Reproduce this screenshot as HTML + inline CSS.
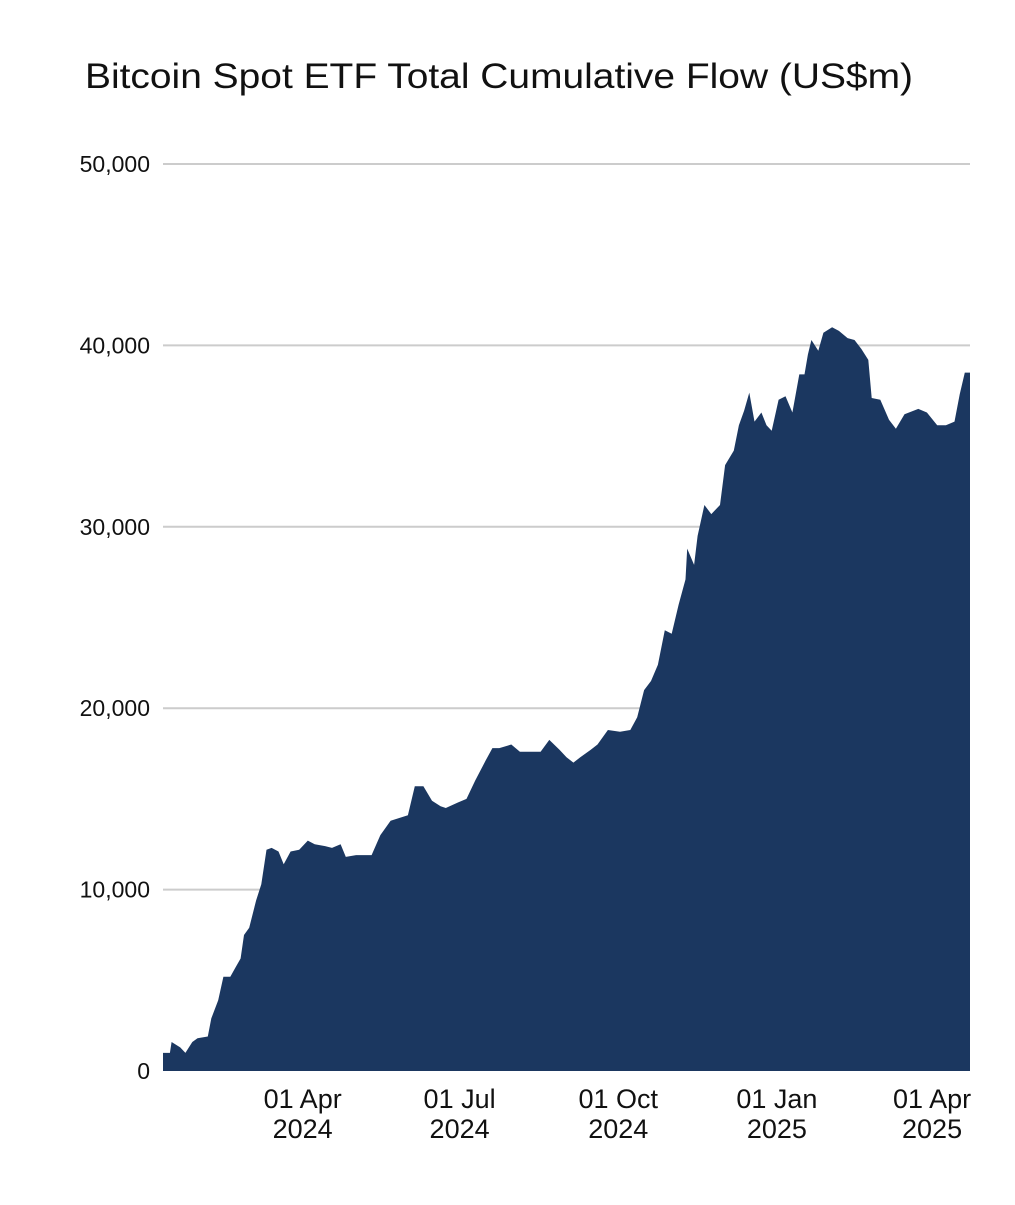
<!DOCTYPE html>
<html><head><meta charset="utf-8">
<style>
body{margin:0;background:#fff;font-family:"Liberation Sans",sans-serif;}
svg text{font-family:"Liberation Sans",sans-serif;fill:#111;}
</style></head>
<body>
<svg id="chart" width="1015" height="1200" xmlns="http://www.w3.org/2000/svg">
<text x="85" y="88" font-size="35" textLength="828" lengthAdjust="spacingAndGlyphs">Bitcoin Spot ETF Total Cumulative Flow (US$m)</text>
<g id="grid"></g><g id="area"></g><g id="axes"></g>
</svg>
<script>
const days=[0,4,5,10,13,17,20,26,28,32,35,39,42,45,47,50,54,57,60,63,67,70,74,79,84,88,94,98,103,106,112,121,126,132,142,146,151,156,161,164,171,176,181,187,191,195,202,207,213,219,224,230,234,238,242,248,252,258,265,271,275,279,283,287,291,295,299,303,304,308,310,314,318,323,326,331,334,337,340,343,347,350,353,357,361,365,369,372,374,376,380,383,388,392,397,401,405,409,411,416,421,425,430,438,443,449,454,459,462,465,468];
const flows=[1000,1000,1600,1300,1000,1600,1800,1900,2900,3900,5200,5200,5700,6200,7500,7900,9400,10300,12200,12300,12100,11400,12100,12200,12700,12500,12400,12300,12500,11800,11900,11900,13000,13800,14100,15700,15700,14900,14600,14500,14800,15000,16000,17100,17800,17800,18000,17600,17600,17600,18250,17700,17300,17000,17300,17700,18000,18800,18700,18800,19500,21000,21500,22400,24300,24100,25700,27100,28800,27900,29500,31200,30700,31200,33400,34200,35600,36400,37400,35800,36300,35600,35300,37000,37200,36300,38400,38400,39500,40300,39700,40700,41000,40800,40400,40300,39800,39200,37100,37000,35900,35400,36200,36500,36300,35600,35600,35800,37300,38500,38500];
const yTicks=[0,10000,20000,30000,40000,50000];
const yTickLabels=["0","10,000","20,000","30,000","40,000","50,000"];
const xTickDays=[81,172,264,356,446];
const xTickLabels=[["01 Apr","2024"],["01 Jul","2024"],["01 Oct","2024"],["01 Jan","2025"],["01 Apr","2025"]];
const NS="http://www.w3.org/2000/svg";
const x0=163,x1=970,y0=1071,y1=164,dMax=468,vMax=50000;
const X=d=>x0+(x1-x0)*d/dMax;
const Y=v=>y0-(y0-y1)*v/vMax;
const grid=document.getElementById('grid'),axes=document.getElementById('axes'),area=document.getElementById('area');
yTicks.forEach((t,i)=>{
  if(t>0){const l=document.createElementNS(NS,'line');
  l.setAttribute('x1',x0);l.setAttribute('x2',x1);l.setAttribute('y1',Y(t));l.setAttribute('y2',Y(t));
  l.setAttribute('stroke','#cccccc');l.setAttribute('stroke-width','2');
  
  
  grid.appendChild(l);}
  const tx=document.createElementNS(NS,'text');
  tx.setAttribute('x',150);tx.setAttribute('y',Y(t)+8);tx.setAttribute('text-anchor','end');tx.setAttribute('font-size','23');
  tx.textContent=yTickLabels[i];
  
  
  axes.appendChild(tx);
});
let d='M'+X(days[0])+','+y0;
days.forEach((dd,i)=>{d+=' L'+X(dd).toFixed(1)+','+Y(flows[i]).toFixed(1);});
d+=' L'+X(days[days.length-1])+','+y0+' Z';
const p=document.createElementNS(NS,'path');
p.setAttribute('d',d);p.setAttribute('fill','#1b3760');


area.appendChild(p);
xTickDays.forEach((td,i)=>{
  xTickLabels[i].forEach((s,j)=>{
    const tx=document.createElementNS(NS,'text');
    tx.setAttribute('x',X(td));tx.setAttribute('y',1108+j*30);tx.setAttribute('text-anchor','middle');tx.setAttribute('font-size','27');
    tx.textContent=s;
    
    
    axes.appendChild(tx);
  });
});
</script>
</body></html>
